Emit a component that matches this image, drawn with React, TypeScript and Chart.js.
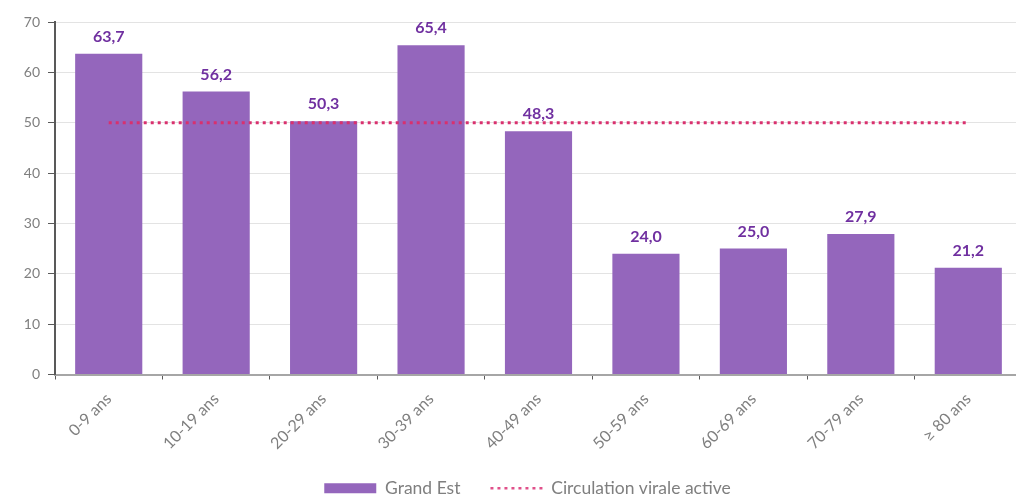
import React, { useEffect, useRef } from "react";
import { Chart, registerables } from "chart.js";

Chart.register(...registerables);

const categories = ["0-9 ans", "10-19 ans", "20-29 ans", "30-39 ans", "40-49 ans", "50-59 ans", "60-69 ans", "70-79 ans", "≥ 80 ans"];
const grandEstValues = [63.7, 56.2, 50.3, 65.4, 48.3, 24.0, 25.0, 27.9, 21.2];
const thresholdValues = [50, 50, 50, 50, 50, 50, 50, 50, 50];
const yTicks = [0, 10, 20, 30, 40, 50, 60, 70];

const FONT = "Lato, 'Open Sans', sans-serif";

const valueLabels = {
  id: "valueLabels",
  afterDatasetsDraw(chart: any) {
    const meta = chart.getDatasetMeta(0);
    const ctx = chart.ctx;
    ctx.save();
    ctx.font = `bold 16px ${FONT}`;
    ctx.fillStyle = "#7030a0";
    ctx.textAlign = "center";
    ctx.textBaseline = "bottom";
    meta.data.forEach((el: any, i: number) => {
      const v = chart.data.datasets[0].data[i] as number;
      ctx.fillText(v.toFixed(1).replace(".", ","), el.x, el.y - 9);
    });
    ctx.restore();
  },
};

const legendShift = {
  id: "legendShift",
  afterLayout(chart: any) {
    const lg = chart.legend;
    if (lg) {
      lg.left -= 11;
      lg.right -= 11;
      lg.top -= 5;
      lg.bottom -= 5;
    }
  },
};

export default function App() {
  const ref = useRef<HTMLCanvasElement>(null);
  useEffect(() => {
    if (!ref.current) return;
    const chart = new Chart(ref.current, {
      type: "bar",
      data: {
        labels: categories,
        datasets: [
          {
            type: "bar",
            label: "Grand Est",
            data: grandEstValues,
            backgroundColor: "#9466bc",
            borderWidth: 0,
            categoryPercentage: 1,
            barPercentage: 0.625,
            order: 2,
            pointStyle: "rect",
          } as any,
          {
            type: "line",
            label: "Circulation virale active",
            data: thresholdValues,
            borderColor: "#d9306e",
            backgroundColor: "#d9306e",
            borderWidth: 3,
            borderDash: [3, 4],
            pointRadius: 0,
            fill: false,
            order: 1,
            pointStyle: "line",
          } as any,
        ],
      },
      options: {
        animation: false,
        responsive: false,
        devicePixelRatio: 1,
        layout: { padding: { top: 22, left: 0, right: 0, bottom: -15 } },
        plugins: {
          tooltip: { enabled: false },
          legend: {
            position: "bottom",
            fullSize: false,
            labels: {
              usePointStyle: true,
              pointStyleWidth: 52,
              boxHeight: 10,
              color: "#7f7f7f",
              font: { family: FONT, size: 17.5 },
              padding: 30,
              sort: (a: any, b: any) => a.datasetIndex - b.datasetIndex,
              generateLabels: (chart: any) => {
                const items = Chart.defaults.plugins.legend.labels.generateLabels(chart);
                items.forEach((it: any) => {
                  if (it.datasetIndex === 1) {
                    it.lineDash = [3, 4];
                    it.lineWidth = 2.5;
                    it.strokeStyle = "#e0508a";
                  }
                });
                return items;
              },
            },
          },
        },
        scales: {
          x: {
            grid: {
              drawOnChartArea: false,
              drawTicks: true,
              tickLength: 5,
              tickColor: "#595959",
            },
            border: { color: "#a6a6a6", width: 2 },
            ticks: {
              minRotation: 45,
              maxRotation: 45,
              padding: 10,
              color: "#7f7f7f",
              font: { family: FONT, size: 16 },
            },
            afterFit: (s: any) => {
              s.height = 80;
            },
          },
          y: {
            min: 0,
            max: 70,
            afterBuildTicks: (s: any) => {
              s.ticks = yTicks.map((v) => ({ value: v }));
            },
            grid: { color: "#e3e3e3", tickLength: 7, tickColor: "#595959" },
            border: { color: "#595959", width: 2 },
            ticks: {
              color: "#7f7f7f",
              font: { family: FONT, size: 14 },
              padding: 8,
            },
            afterFit: (s: any) => {
              s.width = 55;
            },
          },
        },
      },
      plugins: [valueLabels, legendShift],
    });
    return () => chart.destroy();
  }, []);
  return (
    <div style={{ position: "fixed", left: 0, top: 0, width: 1016, height: 497, overflow: "hidden", background: "#fff" }}>
      <canvas ref={ref} width={1022} height={497} style={{ display: "block" }} />
    </div>
  );
}
